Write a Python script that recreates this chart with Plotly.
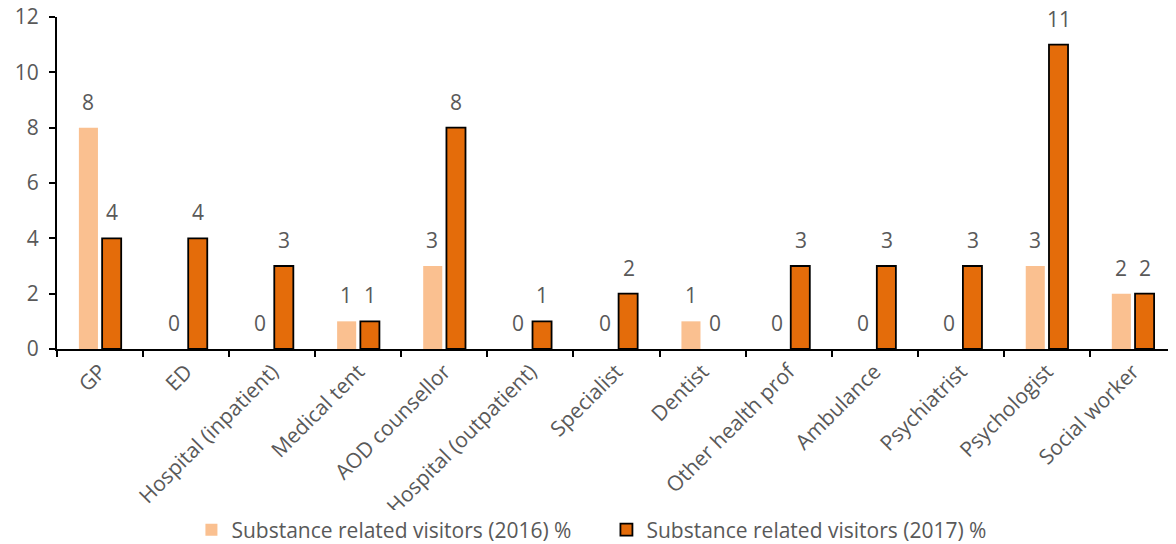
import plotly.graph_objects as go

categories = ["GP", "ED", "Hospital (inpatient)", "Medical tent", "AOD counsellor",
              "Hospital (outpatient)", "Specialist", "Dentist", "Other health prof",
              "Ambulance", "Psychiatrist", "Psychologist", "Social worker"]
visitors_2016 = [8, 0, 0, 1, 3, 0, 0, 1, 0, 0, 0, 3, 2]
visitors_2017 = [4, 4, 3, 1, 8, 1, 2, 0, 3, 3, 3, 11, 2]

font_name = "Open Sans"
grey = "#595959"

fig = go.Figure()
fig.add_trace(go.Bar(
    x=categories, y=visitors_2016,
    name="Substance related visitors (2016) %",
    marker=dict(color="#FAC090", line=dict(width=0)),
))
fig.add_trace(go.Bar(
    x=categories, y=visitors_2017,
    name="Substance related visitors (2017) %",
    marker=dict(color="#E46C0A",
                line=dict(color="black", width=[1.8 if v > 0 else 0 for v in visitors_2017])),
))

# value labels sit a bit above the bars, like the original
for cat, v16, v17 in zip(categories, visitors_2016, visitors_2017):
    for val, shift in ((v16, -12), (v17, 12)):
        fig.add_annotation(x=cat, y=val, text=str(val), showarrow=False,
                           xshift=shift, yshift=10, yanchor="bottom",
                           font=dict(size=21, color=grey, family=font_name))

# page body has an 8px margin, so the figure is sized to fit inside it
fig.update_layout(
    width=1168, height=536,
    margin=dict(l=49, r=0, t=9, b=195),
    plot_bgcolor="white", paper_bgcolor="white",
    font=dict(family=font_name, color=grey, size=20),
    barmode="group", bargap=0.46, bargroupgap=0.18,
    showlegend=True,
    legend=dict(orientation="h", x=0.491, xanchor="center",
                yref="container", y=0.026, yanchor="middle",
                font=dict(size=21, color=grey), itemwidth=30,
                entrywidth=370, entrywidthmode="pixels"),
)
fig.update_xaxes(
    automargin=False,
    showline=True, linecolor="black", linewidth=2,
    ticks="outside", tickson="boundaries", ticklen=6, tickcolor="black", tickwidth=2,
    tickangle=-45, tickfont=dict(size=21, color=grey),
)
fig.update_yaxes(
    automargin=False,
    range=[0, 12], dtick=2, showgrid=False, zeroline=False,
    showline=True, linecolor="black", linewidth=2,
    ticks="outside", ticklen=6, tickcolor="black", tickwidth=2,
    ticklabelstandoff=6, ticklabeloverflow="allow",
    tickfont=dict(size=21, color=grey),
)

fig.write_html("out.html")
